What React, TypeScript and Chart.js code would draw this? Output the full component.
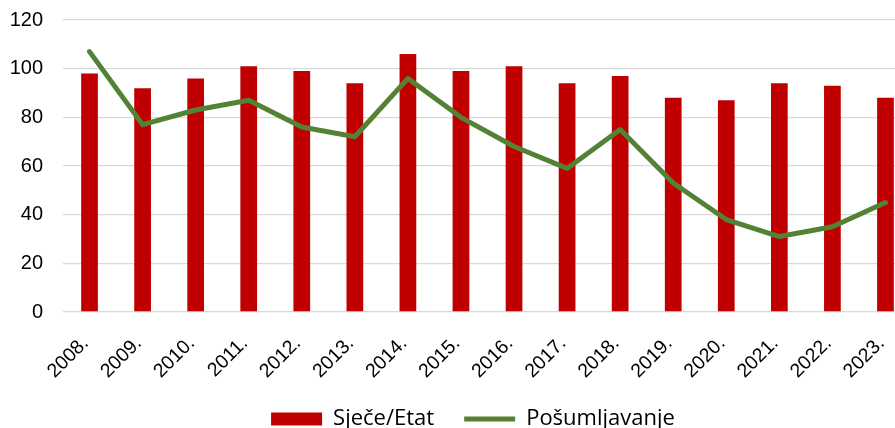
import React, { useEffect, useRef } from "react";
import { Chart, registerables } from "chart.js";

Chart.register(...registerables);

const categories = ["2008.", "2009.", "2010.", "2011.", "2012.", "2013.", "2014.", "2015.", "2016.", "2017.", "2018.", "2019.", "2020.", "2021.", "2022.", "2023."];
const sjeceEtat = [98, 92, 96, 101, 99, 94, 106, 99, 101, 94, 97, 88, 87, 94, 93, 88];
const posumljavanje = [107, 77, 83, 87, 76, 72, 96, 80, 68, 59, 75, 53, 38, 31, 35, 45];
const yTicks = [0, 20, 40, 60, 80, 100, 120];

const legendShift = {
  id: "legendShift",
  afterLayout(chart: any) {
    const l = chart.legend;
    if (l) {
      l.left += 12;
      l.right += 12;
    }
  },
};

export default function App() {
  const ref = useRef<HTMLCanvasElement | null>(null);

  useEffect(() => {
    if (!ref.current) return;
    Chart.defaults.font.family = "'Liberation Sans', Arial, sans-serif";
    const chart = new Chart(ref.current, {
      type: "bar",
      data: {
        labels: categories,
        datasets: [
          {
            type: "bar",
            label: "Sječe/Etat",
            data: sjeceEtat,
            backgroundColor: "#C00000",
            borderWidth: 0,
            categoryPercentage: 1,
            barPercentage: 0.315,
            order: 1,
            pointStyle: "rect",
          } as any,
          {
            type: "line",
            label: "Pošumljavanje",
            data: posumljavanje,
            borderColor: "#548235",
            backgroundColor: "#548235",
            borderWidth: 5,
            pointRadius: 0,
            pointStyle: "line",
            borderCapStyle: "round",
            borderJoinStyle: "round",
            tension: 0,
            order: 0,
          } as any,
        ],
      },
      plugins: [legendShift],
      options: {
        responsive: false,
        animation: false,
        layout: { padding: { left: 10, top: 20, right: 0, bottom: 0 } },
        scales: {
          x: {
            grid: { display: false, drawTicks: false },
            border: { display: false },
            afterFit: (scale: any) => {
              scale.paddingLeft = 0;
              scale.paddingRight = 0;
              scale.height = 66;
            },
            ticks: {
              maxRotation: 45,
              minRotation: 45,
              padding: 20,
              labelOffset: -4,
              color: "#000",
              font: { size: 19.5 },
            },
          },
          y: {
            min: 0,
            max: 120,
            afterBuildTicks: (axis: any) => {
              axis.ticks = yTicks.map((v) => ({ value: v }));
            },
            afterFit: (scale: any) => {
              scale.paddingTop = 0;
              scale.paddingBottom = 0;
              scale.width = 53;
            },
            grid: { color: "#d9d9d9", lineWidth: 1.3, drawTicks: false },
            border: { display: false },
            ticks: { padding: 20, color: "#000", font: { size: 20 } },
          },
        },
        plugins: {
          tooltip: { enabled: false },
          legend: {
            position: "bottom",
            labels: {
              usePointStyle: true,
              pointStyleWidth: 51,
              boxHeight: 13,
              padding: 30,
              color: "#000",
              font: { size: 22, family: "'Liberation Sans Narrow', 'Open Sans', sans-serif" },
              sort: (a: any, b: any) => a.datasetIndex - b.datasetIndex,
            },
          },
        },
      },
    });
    return () => chart.destroy();
  }, []);

  return (
    <div style={{ position: "absolute", left: 0, top: 0, width: 895, height: 428, overflow: "hidden" }}>
      <canvas ref={ref} width={912} height={440} style={{ display: "block" }} />
    </div>
  );
}
